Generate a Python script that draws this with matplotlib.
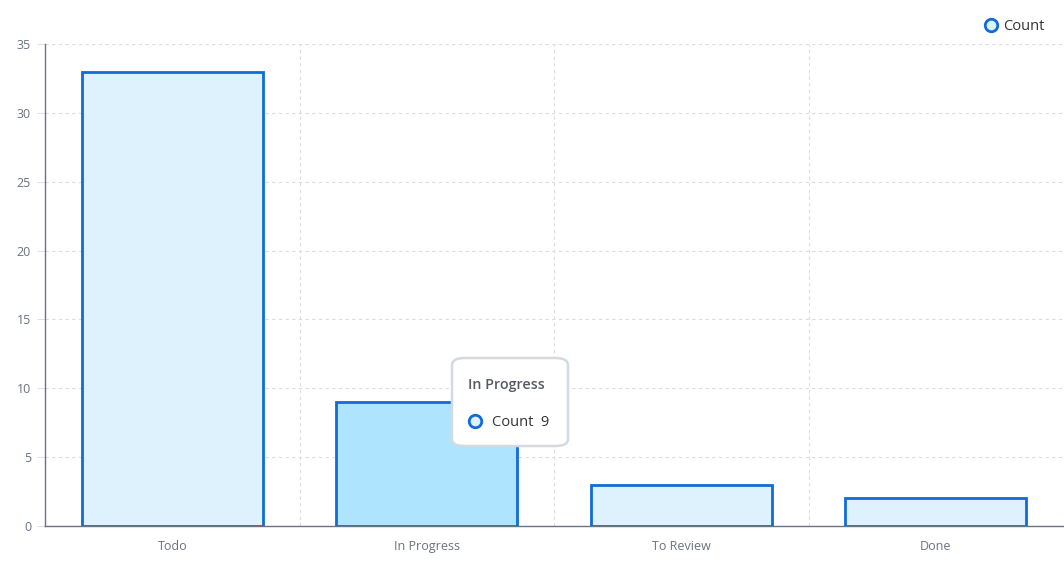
import matplotlib
matplotlib.use("Agg")
import matplotlib.pyplot as plt
from matplotlib.patches import FancyBboxPatch
from matplotlib.lines import Line2D

categories = ["Todo", "In Progress", "To Review", "Done"]
counts = [33, 9, 3, 2]
yticks = [0, 5, 10, 15, 20, 25, 30, 35]
series_name = "Count"
highlight = "In Progress"

plt.rcParams["font.family"] = ["Open Sans", "DejaVu Sans"]

W, H = 1064, 566
fig = plt.figure(figsize=(W / 100, H / 100), dpi=100)
ax = fig.add_axes([45 / W, 40 / H, (1063 - 45) / W, (526 - 44) / H])

edge = "#0f6cd9"
fill = "#ddf2fc"
fill_hi = "#aee4fd"
colors = [fill_hi if c == highlight else fill for c in categories]
x = list(range(len(categories)))
ax.bar(x, counts, width=0.71, color=colors, edgecolor=edge, linewidth=2, zorder=3)

ax.set_xlim(-0.5, len(categories) - 0.5)
ax.set_ylim(0, 35)
ax.set_yticks(yticks)
ax.set_yticklabels([str(t) for t in yticks])
ax.set_xticks(x)
ax.set_xticklabels(categories)
ax.set_xticks([i + 0.5 for i in x], minor=True)

ax.grid(axis="y", which="major", color="#dcdcdc", linestyle=(0, (3, 3)), linewidth=0.8, zorder=0)
ax.grid(axis="x", which="minor", color="#dcdcdc", linestyle=(0, (3, 3)), linewidth=0.8, zorder=0)

for s in ["top", "right"]:
    ax.spines[s].set_visible(False)
for s in ["left", "bottom"]:
    ax.spines[s].set_color("#6b7280")
    ax.spines[s].set_linewidth(1.0)
ax.tick_params(axis="y", which="major", length=6, color="#e0e0e0", labelsize=9, labelcolor="#6b7280", pad=4)
ax.tick_params(axis="x", which="major", length=0, labelsize=9, labelcolor="#6b7280", pad=10)
ax.tick_params(axis="x", which="minor", length=0)

# Legend
fig.add_artist(Line2D([991 / W], [1 - 25 / H], transform=fig.transFigure, marker="o", markersize=9,
                      markerfacecolor=fill, markeredgecolor=edge, markeredgewidth=2, linestyle="none"))
fig.text(1003 / W, 1 - 26 / H, series_name, fontsize=10.5, color="#333333", va="center", ha="left")

# Tooltip
box = FancyBboxPatch((452 / W, 1 - 446 / H), (568 - 452) / W, (446 - 358) / H,
                     boxstyle="round,pad=0,rounding_size=0.012", transform=fig.transFigure,
                     facecolor="white", edgecolor="#d5d9e0", linewidth=1.8, zorder=10)
fig.patches.append(box)
fig.text(468 / W, 1 - 385 / H, highlight, fontsize=10.3, fontweight="semibold", color="#555b66",
         va="center", ha="left", zorder=11)
fig.add_artist(Line2D([475 / W], [1 - 421 / H], transform=fig.transFigure, marker="o", markersize=9,
                      markerfacecolor=fill, markeredgecolor=edge, markeredgewidth=2, linestyle="none", zorder=11))
val = counts[categories.index(highlight)]
fig.text(492 / W, 1 - 422 / H, f"{series_name}  {val}", fontsize=10.5, color="#333333",
         va="center", ha="left", zorder=11)

fig.savefig("out.png", dpi=100)
